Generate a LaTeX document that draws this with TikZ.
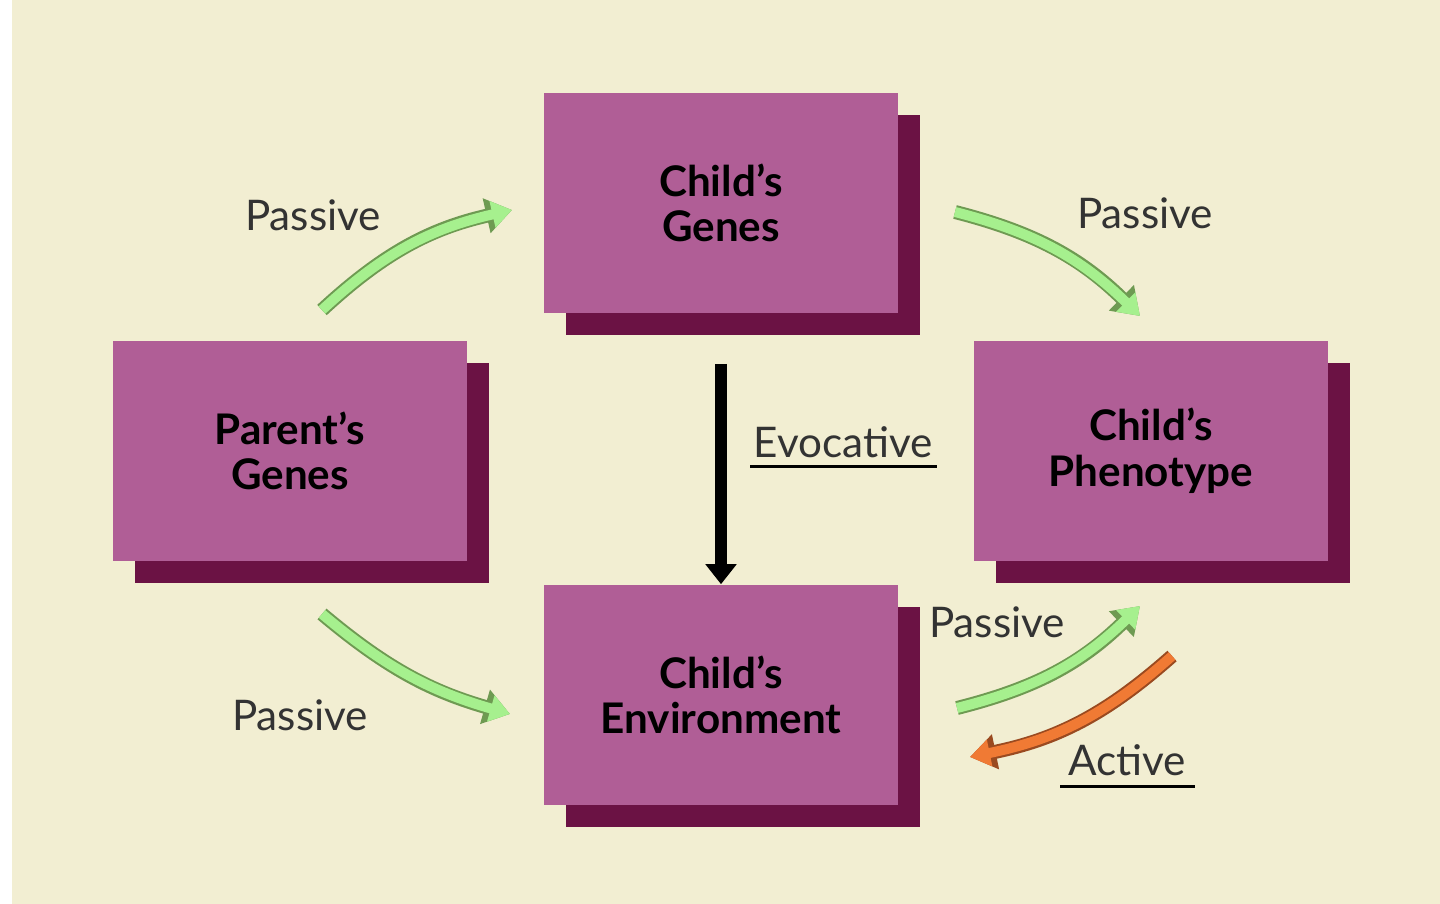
\documentclass[tikz,border=0pt]{standalone}
\usepackage{fontspec}
\setmainfont{Lato}
\usetikzlibrary{arrows.meta}
\definecolor{cream}{HTML}{F2EED2}
\definecolor{plum}{HTML}{B05E96}
\definecolor{plumdark}{HTML}{6B1244}
\definecolor{leaf}{HTML}{A6F08E}
\definecolor{leafrim}{HTML}{6E9A52}
\definecolor{rust}{HTML}{F07A34}
\definecolor{rustrim}{HTML}{9A4A20}

\begin{document}
\begin{tikzpicture}[
	x=0.01cm, y=-0.01cm,
	box/.style = {fill=plum, minimum width=3.53cm, minimum height=2.2cm, align=center,
		font=\fontsize{12}{13}\selectfont\bfseries},
	shadow/.style = {fill=plumdark, minimum width=3.53cm, minimum height=2.2cm},
	lab/.style = {font=\fontsize{12}{13}\selectfont, text=black!80},
	fat/.style = {line width=0.1cm, draw=#1, -{Triangle[length=0.2cm,width=0.26cm]}},
	leafarrow/.style = {preaction={draw=leafrim, line width=0.14cm, -{Triangle[length=0.26cm,width=0.34cm]}}, fat=leaf},
	rustarrow/.style = {preaction={draw=rustrim, line width=0.14cm, -{Triangle[length=0.26cm,width=0.34cm]}}, fat=rust}
  ]
	\fill[white] (0,0) rectangle (1440,904);
	\fill[cream] (12,0) rectangle (1440,904);

	\node[shadow] (genes-s) at (743,225) {};
	\node[shadow] (parent-s) at (312,473) {};
	\node[shadow] (pheno-s) at (1173,473) {};
	\node[shadow] (env-s) at (743,717) {};
	\node[box] (genes) at (721,203) {Child’s\\Genes};
	\node[box] (parent) at (290,451) {Parent’s\\Genes};
	\node[box] (pheno) at (1151,451) {Child’s\\Phenotype};
	\node[box] (env) at (721,695) {Child’s\\Environment};

	\coordinate (@1) at (322,310);
	\coordinate (@2) at (512,210);
	\coordinate (@3) at (955,212);
	\coordinate (@4) at (1140,316);
	\coordinate (@5) at (322,614);
	\coordinate (@6) at (510,714);
	\coordinate (@7) at (957,708);
	\coordinate (@8) at (1140,606);
	\coordinate (@9) at (1172,656);
	\coordinate (@10) at (970,757);

	\draw[leafarrow] (@1) to[bend left=15] (@2);
	\draw[leafarrow] (@3) to[bend left=15] (@4);
	\draw[leafarrow] (@5) to[bend right=12] (@6);
	\draw[leafarrow] (@7) to[bend right=15] (@8);
	\draw[rustarrow] (@9) to[bend left=15] (@10);
	\draw[line width=0.12cm, -{Triangle[length=0.2cm,width=0.3cm]}] (genes-s.south -| genes) ++(0,28) -- (env.north);

	\node[lab] (p1) at (313,215) {Passive};
	\node[lab] (p2) at (1145,213) {Passive};
	\node[lab] (p3) at (300,715) {Passive};
	\node[lab] (p4) at (997,622) {Passive};
	\node[lab] (evo) at (843,442) {Evocative};
	\node[lab] (act) at (1127,760) {Active};
	\draw[line width=0.03cm] (750,467) -- (937,467);
	\draw[line width=0.03cm] (1060,786) -- (1195,786);
\end{tikzpicture}
\end{document}
